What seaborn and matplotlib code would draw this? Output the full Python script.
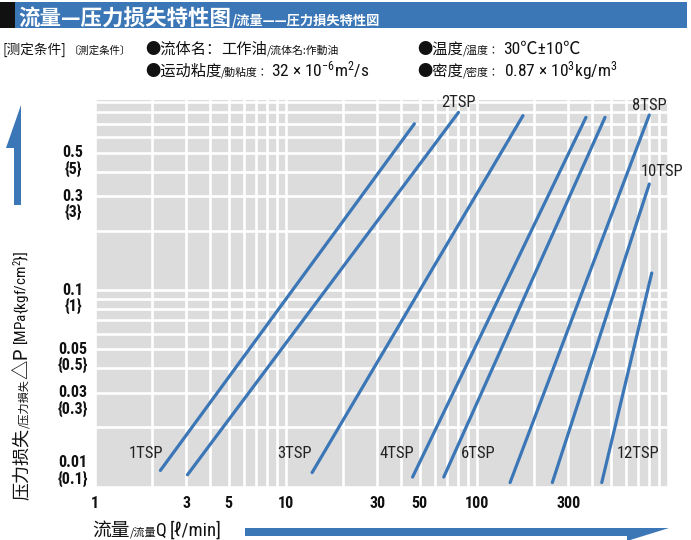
import numpy as np
import pandas as pd
import seaborn as sns
import matplotlib.pyplot as plt
from matplotlib import font_manager
from matplotlib.patches import Rectangle, Polygon
from matplotlib.ticker import LogLocator, NullFormatter

W, H = 691, 540

# Line end points: flow Q (l/min) and pressure loss dP (MPa)
models = ['1TSP', '2TSP', '3TSP', '4TSP', '6TSP', '8TSP', '10TSP', '12TSP']
q_low = [2.2, 3.05, 13.7, 46, 67, 149, 248, 450]
dp_low = [0.0121, 0.0115, 0.0118, 0.0112, 0.0112, 0.0105, 0.0105, 0.0105]
q_high = [47, 80, 174, 372, 468, 798, 798, 822]
dp_high = [0.70, 0.80, 0.77, 0.755, 0.755, 0.776, 0.346, 0.122]

# where each model name sits
label_q = [1.85, 80, 11.1, 38, 101, 795, 930, 697]
label_dp = [0.0147, 0.90, 0.0147, 0.0147, 0.0147, 0.87, 0.40, 0.0147]

x_ticks = [1, 3, 5, 10, 30, 50, 100, 300]
x_tick_labels = ['1', '3', '5', '10', '30', '50', '100', '300']
y_ticks = [0.01, 0.03, 0.05, 0.1, 0.3, 0.5]
y_main_labels = ['0.01', '0.03', '0.05', '0.1', '0.3', '0.5']
y_sub_labels = ['{0.1}', '{0.3}', '{0.5}', '{1}', '{3}', '{5}']

BLUE = '#3b76b6'
INK = '#111111'

# pick a condensed Latin face if one is around
fonts = [(f.name, f.stretch) for f in font_manager.fontManager.ttflist]
names = {n for n, _ in fonts}
NARROW, STRETCH = 'Liberation Sans', 'normal'
for n in ['Liberation Sans Narrow', 'Roboto Condensed', 'Open Sans Condensed']:
    if n in names:
        NARROW = n
        break
else:
    for n in ['Roboto', 'DejaVu Sans', 'Open Sans', 'Noto Sans']:
        if (n, 'condensed') in fonts or (n, 'semi-condensed') in fonts:
            NARROW = n
            STRETCH = 'condensed' if (n, 'condensed') in fonts else 'semi-condensed'
            break

CN = ['Noto Sans CJK SC', 'DejaVu Sans']
JP = ['Noto Sans CJK JP', 'DejaVu Sans']
LAT = [NARROW, 'Noto Sans CJK JP', 'DejaVu Sans']

rows = []
for m, q0, p0, q1, p1 in zip(models, q_low, dp_low, q_high, dp_high):
    rows.append({'model': m, 'Q': q0, 'dP': p0})
    rows.append({'model': m, 'Q': q1, 'dP': p1})
df = pd.DataFrame(rows)

sns.set_theme(style='darkgrid', rc={'axes.facecolor': '#dcdcdc', 'grid.color': 'white'})
plt.rcParams['font.family'] = LAT
plt.rcParams['font.stretch'] = STRETCH
plt.rcParams['mathtext.fontset'] = 'custom'
plt.rcParams['mathtext.rm'] = NARROW
plt.rcParams['mathtext.default'] = 'rm'

fig = plt.figure(figsize=(W / 100, H / 100), dpi=100)
fig.patch.set_facecolor('white')
ax = fig.add_axes([95 / W, 1 - 486.7 / H, (668 - 95) / W, (486.7 - 100) / H])

sns.lineplot(data=df, x='Q', y='dP', hue='model', palette=[BLUE] * len(models),
             estimator=None, sort=False, legend=False, linewidth=2.3, ax=ax)

ax.set_xscale('log')
ax.set_yscale('log')
ax.set_xlim(1, 1000)
ax.set_ylim(0.01, 0.925)
ax.set_xlabel('')
ax.set_ylabel('')

ax.set_xticks(x_ticks)
ax.set_xticklabels(x_tick_labels, fontsize=11.5, fontweight='bold', family=LAT, fontstretch=STRETCH, color=INK)
ax.set_yticks(y_ticks)
ax.tick_params(axis='y', labelleft=False)
for axis in (ax.xaxis, ax.yaxis):
    axis.set_minor_locator(LogLocator(base=10, subs=np.arange(1, 10), numticks=30))
    axis.set_minor_formatter(NullFormatter())
ax.tick_params(which='both', length=0)
ax.tick_params(axis='x', pad=6.5)
ax.grid(True, which='both', color='white', linewidth=1.9)
for s in ax.spines.values():
    s.set_visible(False)

# y tick labels: MPa value with kgf/cm2 value below
ytrans = ax.get_yaxis_transform()
for v, main, sub in zip(y_ticks, y_main_labels, y_sub_labels):
    off = 24 if v == y_ticks[0] else 0
    for s, dy in ((main, off), (sub, off - 16)):
        ax.annotate(s, xy=(0, v), xycoords=ytrans, xytext=(-22, dy), textcoords='offset pixels',
                    ha='center', va='center', fontsize=11.5, fontweight='bold', family=LAT,
                    fontstretch=STRETCH, color=INK)

for m, q, p in zip(models, label_q, label_dp):
    ax.text(q, p, m, ha='center', va='center', fontsize=12, family=LAT, fontstretch=STRETCH,
            color='#222222', clip_on=False)

# header bar
fig.patches.append(Rectangle((0, 1 - 28 / H), 15 / W, 26 / H, transform=fig.transFigure,
                             facecolor=INK, edgecolor='none'))
fig.patches.append(Rectangle((15 / W, 1 - 28 / H), (687 - 15) / W, 26 / H, transform=fig.transFigure,
                             facecolor=BLUE, edgecolor='none'))

renderer = fig.canvas.get_renderer()


def chain(x, y, parts, rotation=0):
    for s, size, fam, weight, color, gap in parts:
        t = fig.text(x / W, 1 - y / H, s, fontsize=size, family=fam, fontweight=weight, color=color,
                     fontstretch=STRETCH if fam is LAT else 'normal',
                     rotation=rotation, rotation_mode='anchor', ha='left', va='baseline')
        bb = t.get_window_extent(renderer)
        if rotation == 0:
            x = bb.x1 + gap
        else:
            y = H - bb.y1 - gap


chain(18, 25, [('流量—压力损失特性图', 15.5, CN, 'bold', 'white', 1),
               ('/流量——圧力損失特性図', 9.5, JP, 'bold', 'white', 0)])

chain(3, 54, [('[测定条件]', 9.8, CN, 'normal', INK, 2),
              ('〔測定条件〕', 7.5, JP, 'normal', INK, 0)])
chain(145, 54, [('●流体名：', 11, CN, 'normal', INK, 0),
                ('工作油', 11, CN, 'normal', INK, 0),
                ('/流体名:作動油', 7.8, JP, 'normal', INK, 0)])
chain(145, 76, [('●运动粘度', 11, CN, 'normal', INK, 0),
                ('/動粘度：', 7.8, JP, 'normal', INK, 2),
                ('32 × 10$^{-6}$m$^{2}$/s', 12.5, LAT, 'normal', INK, 0)])
chain(417, 54, [('●温度', 11, CN, 'normal', INK, 0),
                ('/温度：', 7.8, JP, 'normal', INK, 4),
                ('30℃±10℃', 12.5, LAT, 'normal', INK, 0)])
chain(417, 76, [('●密度', 11, CN, 'normal', INK, 0),
                ('/密度：', 7.8, JP, 'normal', INK, 4),
                ('0.87 × 10$^{3}$kg/m$^{3}$', 12.5, LAT, 'normal', INK, 0)])

# axis titles
chain(27, 500, [('压力损失', 13, CN, 'normal', INK, 0),
                ('/压力損失', 8, JP, 'normal', INK, 0),
                ('△P', 14, CN, 'normal', INK, 2),
                ('[MPa{kgf/cm$^{2}$}]', 11, LAT, 'normal', INK, 0)], rotation=90)
chain(92, 536, [('流量', 13.5, CN, 'normal', INK, 0),
                ('/流量', 8, JP, 'normal', INK, 0),
                ('Q', 13, LAT, 'normal', INK, 3),
                ('[ℓ/min]', 13.5, LAT, 'normal', INK, 0)])

# direction arrows
up_arrow = [(21, 105), (6, 148), (14, 148), (14, 205), (21, 205)]
right_arrow = [(245, 528), (669, 528), (627, 541), (627, 536), (245, 536)]
for pts in (up_arrow, right_arrow):
    fig.patches.append(Polygon([(px / W, 1 - py / H) for px, py in pts], closed=True,
                               transform=fig.transFigure, facecolor=BLUE, edgecolor='none'))

fig.savefig('out.png', dpi=100)
